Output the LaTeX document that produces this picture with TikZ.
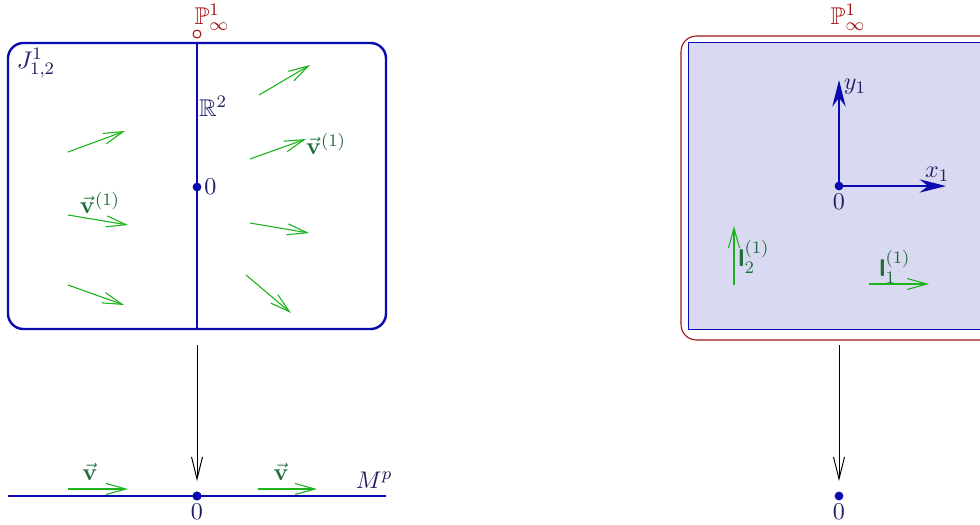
\documentclass[tikz,border=0pt]{standalone}
\usepackage{amsmath,amssymb}
\usetikzlibrary{arrows.meta, positioning}
\definecolor{LineBlue}{HTML}{0A0AB0}
\definecolor{InkNavy}{HTML}{1E1E64}
\definecolor{InfRed}{HTML}{A01414}
\definecolor{FieldGreen}{HTML}{1CB41C}
\definecolor{LabelGreen}{HTML}{1E6E3C}
\definecolor{PlaneFill}{HTML}{D9D9F2}

\begin{document}
\begin{tikzpicture}[
    x=0.4545pt, y=-0.4545pt,
    every node/.style={font=\fontsize{11}{13}\selectfont, inner sep=1pt},
    bluebox/.style={draw=LineBlue, line width=1.1pt, rounded corners=7pt},
    bluebar/.style={draw=LineBlue, line width=1.1pt},
    field/.style={draw=FieldGreen, line width=0.5pt, -{Straight Barb[length=9pt, width=5pt]}},
    maparrow/.style={draw=black, line width=0.45pt, -{Straight Barb[length=10pt, width=5pt]}},
    axis/.style={draw=LineBlue, line width=1.2pt, -{Stealth[length=12pt, width=6pt]}},
    txt/.style={text=InkNavy},
    vlabel/.style={text=LabelGreen},
    dot/.style={circle, fill=LineBlue, inner sep=0pt, minimum size=4pt}
]
\clip (0,0) rectangle (980,524);

% Left: jet space
\draw[bluebox] (8,43) rectangle (386,329);
\coordinate (Rtop) at (197,43);
\coordinate (Rbot) at (197,329);
\draw[bluebar] (Rtop) -- (Rbot);
\node[circle, draw=InfRed, line width=0.5pt, inner sep=0pt, minimum size=3.6pt] (Pinf) at (197,34) {};
\node[text=InfRed] (PinfL) at (212,17) {$\mathbb{P}^1_\infty$};
\node[txt] (J) at (36,63) {$J^1_{1,2}$};
\node[txt] (R2) at (213,106) {$\mathbb{R}^2$};
\node[dot] (O1) at (197,187) {};
\node[txt, right=0pt of O1] (O1L) {$0$};

% field arrows
\draw[field] (68,152) -- (125,131);
\draw[field] (68,215) -- (128,225);
\draw[field] (68,285) -- (124,305);
\draw[field] (259,95) -- (310,65);
\draw[field] (250,159) -- (306,139);
\draw[field] (250,223) -- (309,233);
\draw[field] (246,275) -- (291,313);
\node[vlabel] (v1a) at (100,203) {$\vec{\mathbf{v}}^{(1)}$};
\node[vlabel] (v1b) at (326,144) {$\vec{\mathbf{v}}^{(1)}$};

% Left: base line
\coordinate (MapTop) at (197,345);
\node[dot] (O2) at (197,496) {};
\coordinate (MapEnd) at (197,481);
\draw[maparrow] (MapTop) -- (MapEnd);
\coordinate (Mleft) at (8,496);
\coordinate (Mright) at (386,496);
\draw[bluebar] (Mleft) -- (Mright);
\node[dot] at (O2) {};
\node[txt, below=0pt of O2] (O2L) {$0$};
\draw[field] (68,489) -- (128,489);
\draw[field] (258,489) -- (317,489);
\node[vlabel] (va) at (90,472) {$\vec{\mathbf{v}}$};
\node[vlabel] (vb) at (281,472) {$\vec{\mathbf{v}}$};
\node[txt] (Mp) at (374,480) {$M^p$};

% Right: plane with point at infinity
\draw[draw=InfRed, line width=0.5pt, rounded corners=7pt] (681,36) rectangle (1060,340);
\draw[draw=LineBlue, line width=0.35pt, fill=PlaneFill] (688,42) rectangle (1053,329);
\node[text=InfRed] (PinfR) at (848,17) {$\mathbb{P}^1_\infty$};
\node[dot] (O3) at (839,186) {};
\coordinate (Ytip) at (839,80);
\coordinate (Xtip) at (946,186);
\draw[axis] (O3.center) -- (Ytip);
\draw[axis] (O3.center) -- (Xtip);
\node[txt, right=1pt of Ytip, yshift=-3pt] (y1) {$y_1$};
\node[txt, above=1pt of Xtip, xshift=-4pt] (x1) {$x_1$};
\node[txt, below=0pt of O3] (O3L) {$0$};
\draw[field] (734,285) -- (734,226);
\node[vlabel] (l2) at (754,257) {$\text{\textsf{\bfseries l}}^{(1)}_2$};
\draw[field] (869,284) -- (929,284);
\node[vlabel] (l1) at (895,267) {$\text{\textsf{\bfseries l}}^{(1)}_1$};

% Right: base point
\coordinate (MapTopR) at (839,345);
\coordinate (MapEndR) at (839,481);
\draw[maparrow] (MapTopR) -- (MapEndR);
\node[dot] (O4) at (839,496) {};
\node[txt, below=0pt of O4] (O4L) {$0$};

\end{tikzpicture}
\end{document}
